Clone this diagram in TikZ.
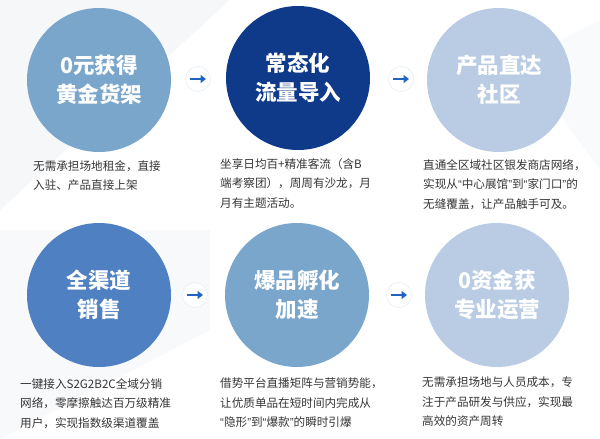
\documentclass[tikz,border=0pt]{standalone}
\usepackage{fontspec}
\setmainfont{Noto Sans CJK SC}
\newfontfamily\myquotefont{Liberation Sans}
\newcommand{\myoq}{{\myquotefont “}}
\newcommand{\mycq}{{\myquotefont ”}}
\usetikzlibrary{arrows.meta}
\definecolor{cA}{HTML}{7BA6CB}
\definecolor{cB}{HTML}{0F3A8A}
\definecolor{cC}{HTML}{B9CCE4}
\definecolor{cD}{HTML}{4F80C1}
\definecolor{arr}{HTML}{1F64C4}
\definecolor{txt}{HTML}{363636}
\definecolor{bgA}{HTML}{F2F4F7}
\definecolor{ring}{HTML}{E6EEF8}
\begin{document}
\begin{tikzpicture}[x=1pt,y=-1pt,
 bubble/.style={circle, minimum size=144pt, inner sep=0pt, text=white,
   font=\bfseries\fontsize{21.5}{29}\selectfont, align=center},
 desc/.style={anchor=north west, inner sep=0pt, text=txt,
   font=\fontsize{11.6}{19.5}\selectfont, align=left},
 arrowdot/.style={circle, minimum size=25pt, inner sep=0pt, fill=white, draw=ring, line width=0.6pt},
 arrowline/.style={arr, line width=2.4pt, -{Triangle[length=5.5pt,width=8pt]}}
]
\useasboundingbox (0,0) rectangle (600,439);
\fill[white] (0,0) rectangle (600,439);
% faint background bands
\fill[bgA, opacity=0.7] (0,0) -- (230,0) -- (0,210) -- cycle;
\fill[bgA, opacity=0.5] (0,230) -- (210,230) -- (210,330) -- (0,439) -- cycle;
\fill[bgA, opacity=0.4] (520,60) -- (600,20) -- (600,170) -- cycle;

% bubbles
\node[bubble, fill=cA] (c1) at (99,80)  {0元获得\\黄金货架};
\node[bubble, fill=cB] (c2) at (298,78) {常态化\\流量导入};
\node[bubble, fill=cC] (c3) at (499,80) {产品直达\\社区};
\node[bubble, fill=cD] (c4) at (99,295) {全渠道\\销售};
\node[bubble, fill=cA] (c5) at (297,295) {爆品孵化\\加速};
\node[bubble, fill=cC] (c6) at (497,295) {0资金获\\专业运营};

% arrows
\node[arrowdot] (a1) at (198,79) {};
\node[arrowdot] (a2) at (401,79) {};
\node[arrowdot] (a3) at (195,295) {};
\node[arrowdot] (a4) at (399,295) {};
\foreach \a in {a1,a2,a3,a4}{
  \draw[arrowline] ([xshift=-8pt]\a.center) -- ([xshift=8pt]\a.center);
}

% descriptions
\node[desc] (d1) at (33,160) {无需承担场地租金，直接\\入驻、产品直接上架};
\node[desc] (d2) at (220,158) {坐享日均百+精准客流（含B\\端考察团），周周有沙龙，月\\月有主题活动。};
\node[desc] (d3) at (423,159) {直通全区域社区银发商店网络，\\实现从\myoq 中心展馆\mycq 到\myoq 家门口\mycq 的\\无缝覆盖，让产品触手可及。};
\node[desc] (d4) at (20,378) {一键接入S2G2B2C全域分销\\网络，零摩擦触达百万级精准\\用户，实现指数级渠道覆盖};
\node[desc] (d5) at (220,378) {借势平台直播矩阵与营销势能，\\让优质单品在短时间内完成从\\\myoq 隐形\mycq 到\myoq 爆款\mycq 的瞬时引爆};
\node[desc] (d6) at (422,377) {无需承担场地与人员成本，专\\注于产品研发与供应，实现最\\高效的资产周转};
\end{tikzpicture}
\end{document}
